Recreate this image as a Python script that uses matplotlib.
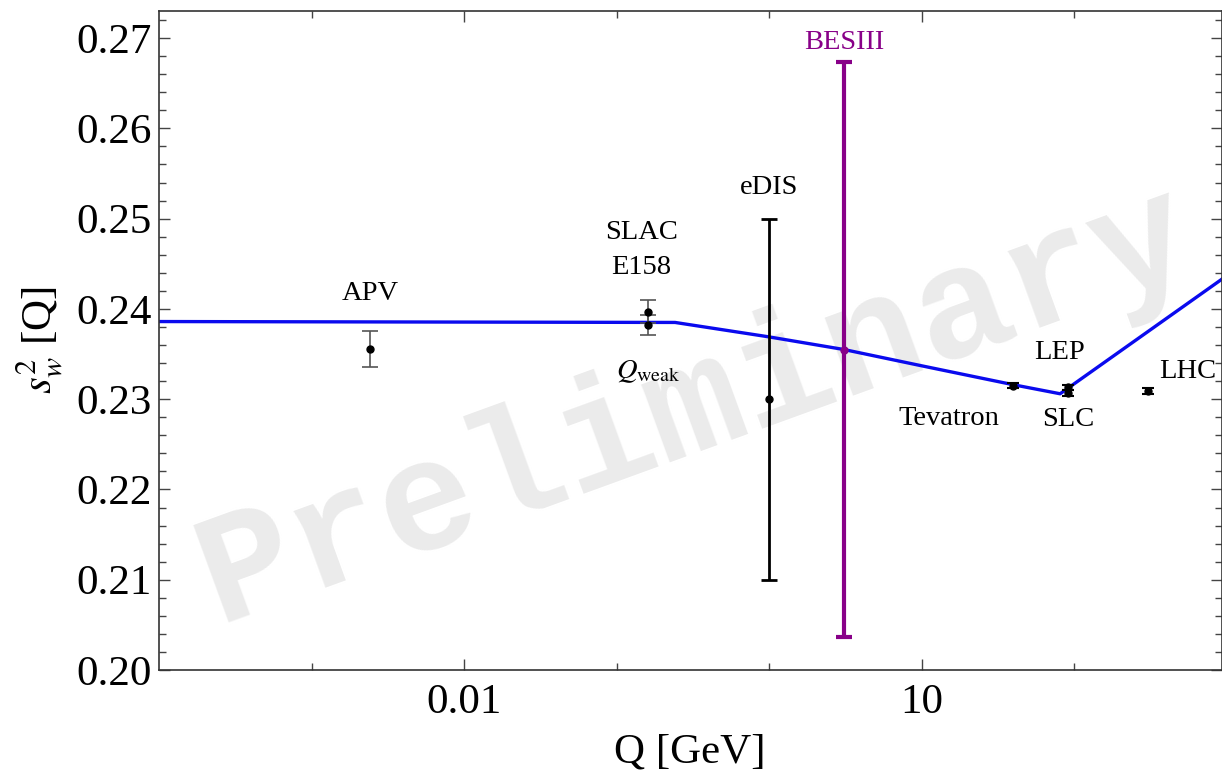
import matplotlib
matplotlib.use("Agg")
import matplotlib.pyplot as plt
import matplotlib.ticker as mticker

plt.rcParams['font.family'] = ['Liberation Serif', 'DejaVu Serif']
plt.rcParams['mathtext.fontset'] = 'stix'

# running weak mixing angle
curve_q = [1e-4, 0.242, 1.0, 3.1, 10.0, 40.0, 81.0, 933.0]
curve_s2w = [0.2386, 0.2385, 0.2369, 0.2355, 0.2337, 0.2316, 0.2306, 0.2433]

# measurements: Q [GeV], value, error
apv_q, apv_val, apv_err = [0.00242], [0.2356], [0.0020]
e158_q, e158_val, e158_err = [0.161], [0.2397], [0.0013]
qweak_q, qweak_val, qweak_err = [0.161], [0.2382], [0.0011]
edis_q, edis_val, edis_err = [1.0], [0.2300], [0.0200]
besiii_q, besiii_val, besiii_err = [3.1], [0.2355], [0.0318]
hi_names = ['Tevatron', 'LEP', 'SLC', 'LHC']
hi_q = [40.0, 91.2, 91.2, 305.0]
hi_val = [0.2315, 0.2313, 0.2307, 0.2309]
hi_err = [0.0003, 0.0003, 0.0003, 0.0003]

fig = plt.figure(figsize=(12.22, 7.77), dpi=100)
ax = fig.add_axes([159 / 1222, 1 - 670 / 777, (1222 - 159) / 1222, (670 - 11) / 777])

ax.set_xscale('log')
ax.set_xlim(1e-4, 10 ** 2.97)
ax.set_ylim(0.20, 0.273)

# watermark
ax.text(0.505, 0.40, 'Preliminary', transform=ax.transAxes, rotation=20,
        ha='center', va='center', fontsize=114, color='#ebebeb',
        family='Liberation Mono', fontweight='bold', zorder=0)

ax.plot(curve_q, curve_s2w, color='#0a0aee', lw=2.4, zorder=2)

ax.errorbar(apv_q, apv_val, yerr=apv_err, fmt='o', color='black', ms=5,
            ecolor='#555555', elinewidth=1.2, capsize=6, capthick=1.2, zorder=3)
ax.errorbar(e158_q, e158_val, yerr=e158_err, fmt='o', color='black', ms=5,
            ecolor='#555555', elinewidth=1.2, capsize=6, capthick=1.2, zorder=3)
ax.errorbar(qweak_q, qweak_val, yerr=qweak_err, fmt='o', color='black', ms=5,
            ecolor='#555555', elinewidth=1.2, capsize=6, capthick=1.2, zorder=3)
ax.errorbar(edis_q, edis_val, yerr=edis_err, fmt='o', color='black', ms=5,
            elinewidth=2.0, capsize=6, capthick=2.0, zorder=3)
ax.errorbar(besiii_q, besiii_val, yerr=besiii_err, fmt='o', color='#880088', ms=5,
            elinewidth=3.0, capsize=6, capthick=3.0, zorder=4)
ax.errorbar(hi_q, hi_val, yerr=hi_err, fmt='o', color='black', ms=5,
            elinewidth=1.5, capsize=4, capthick=1.5, zorder=3)

# labels
fs = 20.5
ax.text(0.00242, 0.2417, 'APV', ha='center', va='center', fontsize=fs)
ax.text(0.145, 0.2485, 'SLAC', ha='center', va='center', fontsize=fs)
ax.text(0.145, 0.2446, 'E158', ha='center', va='center', fontsize=fs)
ax.text(0.161, 0.2330, r'$Q_{\mathrm{weak}}$', ha='center', va='center', fontsize=fs)
ax.text(1.0, 0.2535, 'eDIS', ha='center', va='center', fontsize=fs)
ax.text(3.1, 0.2695, 'BESIII', ha='center', va='center', fontsize=fs, color='#880088')
ax.text(15.0, 0.2279, 'Tevatron', ha='center', va='center', fontsize=fs)
ax.text(80.0, 0.2352, 'LEP', ha='center', va='center', fontsize=fs)
ax.text(91.2, 0.2277, 'SLC', ha='center', va='center', fontsize=fs)
ax.text(360.0, 0.2331, 'LHC', ha='left', va='center', fontsize=fs)

# axes styling
ax.xaxis.set_major_locator(mticker.FixedLocator([0.01, 10]))
ax.xaxis.set_minor_locator(mticker.FixedLocator([1e-3, 0.1, 1, 100]))
ax.xaxis.set_major_formatter(mticker.FixedFormatter(['0.01', '10']))
ax.xaxis.set_minor_formatter(mticker.NullFormatter())
ax.yaxis.set_major_locator(mticker.MultipleLocator(0.01))
ax.yaxis.set_minor_locator(mticker.MultipleLocator(0.002))
ax.yaxis.set_major_formatter(mticker.FormatStrFormatter('%.2f'))

ax.tick_params(which='both', direction='in', top=True, right=True,
               color='#444444', width=1.0, labelsize=31)
ax.tick_params(which='major', length=8)
ax.tick_params(which='minor', length=5)
ax.tick_params(axis='x', pad=10)
ax.tick_params(axis='y', pad=5)
for sp in ax.spines.values():
    sp.set_color('#333333')
    sp.set_linewidth(1.2)

fig.text(690 / 1222, 1 - 752 / 777, 'Q [GeV]', ha='center', va='center', fontsize=31)
fig.text(40 / 1222, 1 - 340 / 777, r'$s_w^2$ [Q]', ha='center', va='center',
         fontsize=31, rotation=90)

fig.savefig('out.png', dpi=100)
